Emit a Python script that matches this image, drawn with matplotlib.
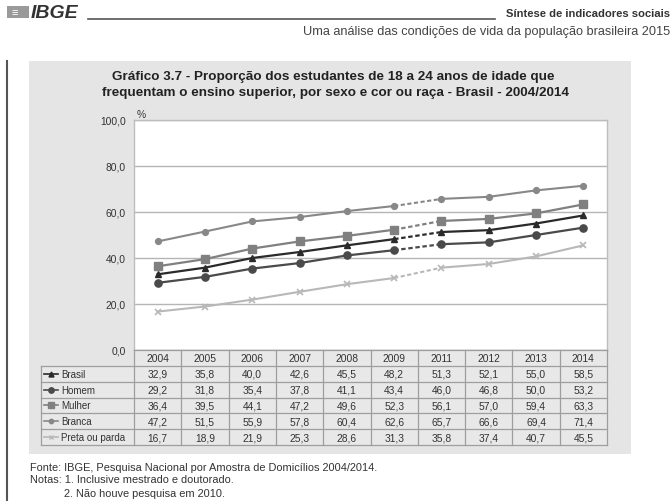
import matplotlib
matplotlib.use("Agg")
import matplotlib.pyplot as plt
from matplotlib.patches import Rectangle
from matplotlib.lines import Line2D

plt.rcParams['font.family'] = ['Liberation Sans', 'DejaVu Sans']

years = ['2004', '2005', '2006', '2007', '2008', '2009', '2011', '2012', '2013', '2014']
series_names = ['Brasil', 'Homem', 'Mulher', 'Branca', 'Preta ou parda']
brasil = [32.9, 35.8, 40.0, 42.6, 45.5, 48.2, 51.3, 52.1, 55.0, 58.5]
homem = [29.2, 31.8, 35.4, 37.8, 41.1, 43.4, 46.0, 46.8, 50.0, 53.2]
mulher = [36.4, 39.5, 44.1, 47.2, 49.6, 52.3, 56.1, 57.0, 59.4, 63.3]
branca = [47.2, 51.5, 55.9, 57.8, 60.4, 62.6, 65.7, 66.6, 69.4, 71.4]
preta = [16.7, 18.9, 21.9, 25.3, 28.6, 31.3, 35.8, 37.4, 40.7, 45.5]
yticks = [0, 20, 40, 60, 80, 100]
gap_index = 5  # 2010 missing: dashed between 2009 and 2011

series = [brasil, homem, mulher, branca, preta]
styles = [
    dict(color='#2a2a2a', marker='^', ms=4.8, lw=1.6),
    dict(color='#4a4a4a', marker='o', ms=5.2, lw=1.6),
    dict(color='#808080', marker='s', ms=5.2, lw=1.6),
    dict(color='#888888', marker='o', ms=4.2, lw=1.5),
    dict(color='#b8b8b8', marker='x', ms=4, lw=1.5, mew=1.2),
]

W, H = 672, 502
fig = plt.figure(figsize=(W / 100, H / 100), dpi=100)
fig.patch.set_facecolor('white')
FS = 7.4
TXT = '#333333'

def fx(px):
    return px / W

def fy(py):
    return 1 - py / H

# page header
fig.add_artist(Rectangle((fx(7), fy(19)), 22 / W, 12 / H, transform=fig.transFigure,
                         facecolor='#9a9a9a', edgecolor='none', zorder=1))
fig.text(fx(11), fy(13), '\u2261', fontsize=8, color='white', va='center', ha='left')
fig.text(fx(31), fy(13), 'IBGE', fontsize=14, fontweight='bold', style='italic',
         color='#333333', va='center', ha='left')
fig.add_artist(Line2D([fx(88), fx(495)], [fy(20), fy(20)], transform=fig.transFigure,
                      color='#555555', lw=1.2))
fig.text(fx(670), fy(14), 'Síntese de indicadores sociais', fontsize=8.1, fontweight='bold',
         color='#333333', va='center', ha='right')
fig.text(fx(670), fy(32), 'Uma análise das condições de vida da população brasileira 2015',
         fontsize=9.2, color='#444444', va='center', ha='right')

# left vertical bar
fig.add_artist(Line2D([fx(7), fx(7)], [fy(62), fy(502)], transform=fig.transFigure,
                      color='#555555', lw=1.5))

# grey panel (behind the axes)
fig.add_artist(Rectangle((fx(29), fy(455)), (631 - 29) / W, (455 - 62) / H,
                         transform=fig.transFigure, facecolor='#e5e5e5', edgecolor='none',
                         zorder=-5))

# title
fig.text(fx(333), fy(77), 'Gráfico 3.7 - Proporção dos estudantes de 18 a 24 anos de idade que',
         fontsize=9.7, fontweight='bold', color='#222222', ha='center', va='center')
fig.text(fx(336), fy(93), 'frequentam o ensino superior, por sexo e cor ou raça - Brasil - 2004/2014',
         fontsize=9.7, fontweight='bold', color='#222222', ha='center', va='center')

# main plot axes
L, R, T, B = 134, 607, 121, 351
ax = fig.add_axes([fx(L), fy(B), (R - L) / W, (B - T) / H])
ax.set_facecolor('white')
x = list(range(len(years)))
for vals, st in zip(series, styles):
    ax.plot(x[:gap_index + 1], vals[:gap_index + 1], color=st['color'], lw=st['lw'], zorder=3)
    ax.plot(x[gap_index:gap_index + 2], vals[gap_index:gap_index + 2], color=st['color'],
            lw=st['lw'], ls=(0, (2, 1.2)), zorder=3)
    ax.plot(x[gap_index + 1:], vals[gap_index + 1:], color=st['color'], lw=st['lw'], zorder=3)
    ax.plot(x, vals, ls='none', marker=st['marker'], ms=st['ms'], color=st['color'],
            mec=st['color'], mew=st.get('mew', 1), zorder=4)
ax.set_xlim(-0.5, len(years) - 0.5)
ax.set_ylim(0, 100)
ax.set_yticks(yticks)
ax.set_yticklabels([f'{v:.1f}'.replace('.', ',') for v in yticks], fontsize=FS, color=TXT)
ax.set_xticks([])
ax.tick_params(axis='y', length=0, pad=6)
ax.yaxis.grid(True, color='#b5b5b5', lw=1)
ax.set_axisbelow(True)
for s in ax.spines.values():
    s.set_color('#bdbdbd')
    s.set_linewidth(1)
fig.text(fx(137), fy(115), '%', fontsize=FS, color=TXT, ha='left', va='center')

# data table axes (shares category positions with the plot)
TB = 446
tax = fig.add_axes([fx(L), fy(TB), (R - L) / W, (TB - B) / H], sharex=ax)
tax.set_ylim(6, 0)
tax.axis('off')
col_px = (R - L) / len(years)
label_left = -0.5 - (L - 41) / col_px
grid_c = '#9e9e9e'
tax.add_patch(Rectangle((label_left, 1), -0.5 - label_left, 5, facecolor='#e8e8e8',
                        edgecolor='none', clip_on=False))
tax.add_patch(Rectangle((-0.5, 0), len(years), 6, facecolor='#e8e8e8',
                        edgecolor='none', clip_on=False))
for r in range(7):
    x0 = -0.5 if r == 0 else label_left
    tax.plot([x0, len(years) - 0.5], [r, r], color=grid_c, lw=0.9, clip_on=False)
for c in range(len(years) + 1):
    tax.plot([c - 0.5, c - 0.5], [0, 6], color=grid_c, lw=0.9, clip_on=False)
tax.plot([label_left, label_left], [1, 6], color=grid_c, lw=0.9, clip_on=False)
for i, yr in enumerate(years):
    tax.text(i, 0.5, yr, fontsize=FS, ha='center', va='center', color=TXT)
for r, (name, vals, st) in enumerate(zip(series_names, series, styles), start=1):
    for i, v in enumerate(vals):
        tax.text(i, r + 0.5, f'{v:.1f}'.replace('.', ','), fontsize=FS, ha='center',
                 va='center', color=TXT)
    lx0 = label_left + 3 / col_px
    lx1 = label_left + 17 / col_px
    tax.plot([lx0, lx1], [r + 0.5, r + 0.5], color=st['color'], lw=1.2, clip_on=False)
    tax.plot([(lx0 + lx1) / 2], [r + 0.5], marker=st['marker'], ms=st['ms'] * 0.75,
             color=st['color'], mec=st['color'], ls='none', clip_on=False)
    tax.text(label_left + 20 / col_px, r + 0.5, name, fontsize=7.0, ha='left', va='center',
             color=TXT, clip_on=False)

# footnotes
fig.text(fx(30), fy(468), 'Fonte: IBGE, Pesquisa Nacional por Amostra de Domicílios 2004/2014.',
         fontsize=7.9, color=TXT, ha='left', va='center')
fig.text(fx(30), fy(480), 'Notas: 1. Inclusive mestrado e doutorado.',
         fontsize=7.9, color=TXT, ha='left', va='center')
fig.text(fx(64), fy(494), '2. Não houve pesquisa em 2010.',
         fontsize=7.9, color=TXT, ha='left', va='center')

fig.savefig('out.png', dpi=100, facecolor='white')
